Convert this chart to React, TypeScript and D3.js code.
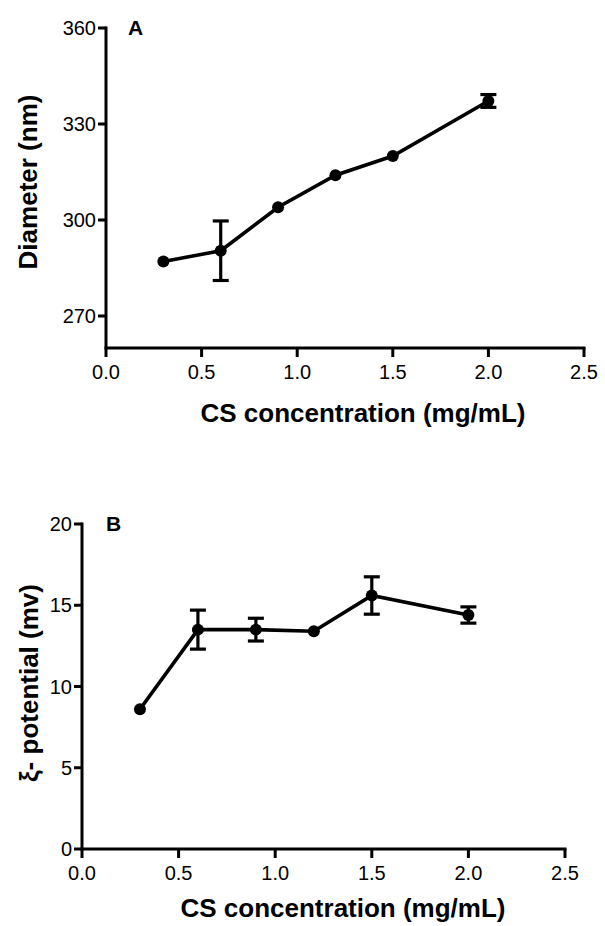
import React from 'react';
import * as d3 from 'd3';

// Panel A: particle diameter
const concA = [0.3, 0.6, 0.9, 1.2, 1.5, 2.0];
const diameter = [287, 290.4, 304, 314, 320, 337.2];
const diameterErr = [0, 9.3, 0, 0, 0, 2];

// Panel B: zeta potential
const concB = [0.3, 0.6, 0.9, 1.2, 1.5, 2.0];
const zeta = [8.6, 13.5, 13.5, 13.4, 15.6, 14.4];
const zetaErr = [0, 1.2, 0.7, 0, 1.15, 0.5];

const xTicks = [0, 0.5, 1.0, 1.5, 2.0, 2.5];
const yTicksA = [270, 300, 330, 360];
const yTicksB = [0, 5, 10, 15, 20];

const FONT = 'Liberation Sans, Arial, sans-serif';

interface PanelProps {
  x: number[];
  y: number[];
  err: number[];
  xRange: [number, number];
  yDomain: [number, number];
  yRange: [number, number];
  yTicks: number[];
  letter: string;
  letterX: number;
  letterY: number;
  yLabel: string;
  yLabelX: number;
  yLabelY: number;
  xLabelX: number;
  xLabelY: number;
}

const Panel: React.FC<PanelProps> = (p) => {
  const xs = d3.scaleLinear().domain([0, 2.5]).range(p.xRange);
  const ys = d3.scaleLinear().domain(p.yDomain).range(p.yRange);
  const x0 = p.xRange[0];
  const yb = p.yRange[0];
  const yt = p.yRange[1];
  const pts = p.x.map((v, i) => [v, p.y[i]] as [number, number]);
  const line = d3.line<[number, number]>().x(d => xs(d[0])).y(d => ys(d[1]));
  const sw = 3;
  return (
    <g>
      {/* axes */}
      <line x1={x0} x2={x0} y1={yt - 1.5} y2={yb} stroke="#000" strokeWidth={sw} />
      <line x1={x0 - 1.5} x2={p.xRange[1] + 1.5} y1={yb} y2={yb} stroke="#000" strokeWidth={sw} />
      {p.yTicks.map(t => (
        <g key={'y' + t}>
          <line x1={x0 - 8} x2={x0} y1={ys(t)} y2={ys(t)} stroke="#000" strokeWidth={sw} />
          <text x={x0 - 10} y={ys(t)} dy="0.36em" textAnchor="end" fontSize={20} fontFamily={FONT}>{t}</text>
        </g>
      ))}
      {xTicks.map(t => (
        <g key={'x' + t}>
          <line x1={xs(t)} x2={xs(t)} y1={yb} y2={yb + 9} stroke="#000" strokeWidth={sw} />
          <text x={xs(t)} y={yb + 31} textAnchor="middle" fontSize={20} fontFamily={FONT}>{t.toFixed(1)}</text>
        </g>
      ))}
      {/* data */}
      <path d={line(pts) || ''} fill="none" stroke="#000" strokeWidth={3.6} />
      {pts.map((d, i) => p.err[i] > 0 && (
        <g key={'e' + i} stroke="#000" strokeWidth={3.2}>
          <line x1={xs(d[0])} x2={xs(d[0])} y1={ys(d[1] - p.err[i])} y2={ys(d[1] + p.err[i])} />
          <line x1={xs(d[0]) - 8} x2={xs(d[0]) + 8} y1={ys(d[1] - p.err[i])} y2={ys(d[1] - p.err[i])} />
          <line x1={xs(d[0]) - 8} x2={xs(d[0]) + 8} y1={ys(d[1] + p.err[i])} y2={ys(d[1] + p.err[i])} />
        </g>
      ))}
      {pts.map((d, i) => (
        <circle key={'c' + i} cx={xs(d[0])} cy={ys(d[1])} r={6} fill="#000" />
      ))}
      {/* labels */}
      <text x={p.letterX} y={p.letterY} fontSize={21} fontWeight="bold" fontFamily={FONT}>{p.letter}</text>
      <text transform={`translate(${p.yLabelX},${p.yLabelY}) rotate(-90)`} textAnchor="middle"
        fontSize={26} fontWeight="bold" fontFamily={FONT}>{p.yLabel}</text>
      <text x={p.xLabelX} y={p.xLabelY} textAnchor="middle" fontSize={26} fontWeight="bold" fontFamily={FONT}>
        CS concentration (mg/mL)
      </text>
    </g>
  );
};

const App: React.FC = () => (
  <svg width={605} height={926} style={{ position: 'absolute', left: 0, top: 0, background: '#fff' }}>
    <Panel x={concA} y={diameter} err={diameterErr} xRange={[106, 584]} yDomain={[260, 360]} yRange={[348, 28]}
      yTicks={yTicksA} letter="A" letterX={128} letterY={35} yLabel="Diameter (nm)" yLabelX={37} yLabelY={182}
      xLabelX={363} xLabelY={422} />
    <Panel x={concB} y={zeta} err={zetaErr} xRange={[82, 565]} yDomain={[0, 20]} yRange={[849, 524]}
      yTicks={yTicksB} letter="B" letterX={106} letterY={531} yLabel="ξ- potential (mv)" yLabelX={38} yLabelY={683}
      xLabelX={343} xLabelY={917} />
  </svg>
);

export default App;
